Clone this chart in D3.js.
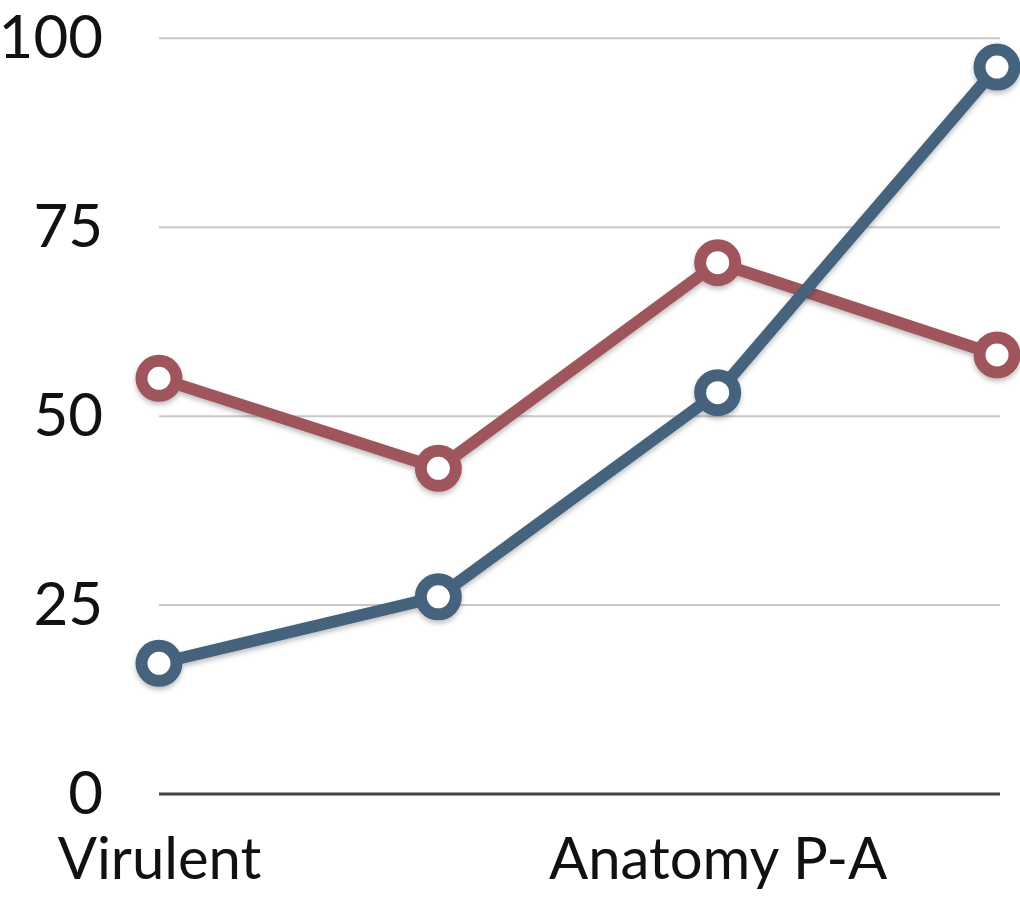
<!DOCTYPE html>
<html><head><meta charset="utf-8">
<script src="https://cdn.jsdelivr.net/npm/d3@7"></script>
<style>body{margin:0;background:#fff}svg{display:block}</style>
</head><body>
<script>
const categories = ["Virulent", "B", "Anatomy P-A", "D"];
const shownLabels = ["Virulent", "Anatomy P-A"];
const blueValues = [17.3, 26.1, 53.1, 96.2];
const redValues = [55.0, 43.1, 70.3, 58.1];
const yTicks = [0, 25, 50, 75, 100];

const W = 1020, H = 899;
const svg = d3.select("body").append("svg").attr("width", W).attr("height", H);
const defs = svg.append("defs");
const f = defs.append("filter").attr("id","sh").attr("x","-20%").attr("y","-20%").attr("width","140%").attr("height","140%");
f.append("feDropShadow").attr("dx",0).attr("dy",3).attr("stdDeviation",2.5).attr("flood-color","#000").attr("flood-opacity",0.25);

const x = d3.scalePoint().domain(categories).range([159, 997]);
const y = d3.scaleLinear().domain([0, 100]).range([794, 38.3]);

// gridlines
svg.append("g").selectAll("line").data(yTicks.filter(d => d > 0)).join("line")
  .attr("x1", 159).attr("x2", 1000)
  .attr("y1", d => y(d)).attr("y2", d => y(d))
  .attr("stroke", "#c8c8c8").attr("stroke-width", 2);

// y axis labels
const yAxis = d3.axisLeft(y).tickValues(yTicks).tickSize(0).tickPadding(0);
const gy = svg.append("g").attr("transform", "translate(103,0)").call(yAxis);
gy.select(".domain").remove();
gy.selectAll("text").attr("font-family", "Lato, 'Open Sans', sans-serif").attr("font-size", 60).attr("fill", "#111");

// baseline
svg.append("line").attr("x1", 159).attr("x2", 1000).attr("y1", y(0)).attr("y2", y(0))
  .attr("stroke", "#444").attr("stroke-width", 3);

// x axis labels
const xAxis = d3.axisBottom(x).tickSize(0).tickPadding(0)
  .tickFormat(d => shownLabels.includes(d) ? d : "");
const gx = svg.append("g").attr("transform", "translate(0,838)").call(xAxis);
gx.select(".domain").remove();
gx.selectAll("text").attr("font-family", "Lato, 'Open Sans', sans-serif").attr("font-size", 58).attr("fill", "#111");

const line = d3.line().x((d, i) => x(categories[i])).y(d => y(d));
const series = [
  {values: redValues, color: "#9e575b"},
  {values: blueValues, color: "#45637b"}
];
series.forEach(s => {
  const g = svg.append("g").attr("filter", "url(#sh)");
  g.append("path").datum(s.values).attr("d", line)
    .attr("fill", "none").attr("stroke", s.color).attr("stroke-width", 12).attr("stroke-linejoin", "round");
  g.selectAll("circle").data(s.values).join("circle")
    .attr("cx", (d, i) => x(categories[i])).attr("cy", d => y(d))
    .attr("r", 17.5).attr("fill", "#fff").attr("stroke", s.color).attr("stroke-width", 12);
});
</script>
</body></html>
